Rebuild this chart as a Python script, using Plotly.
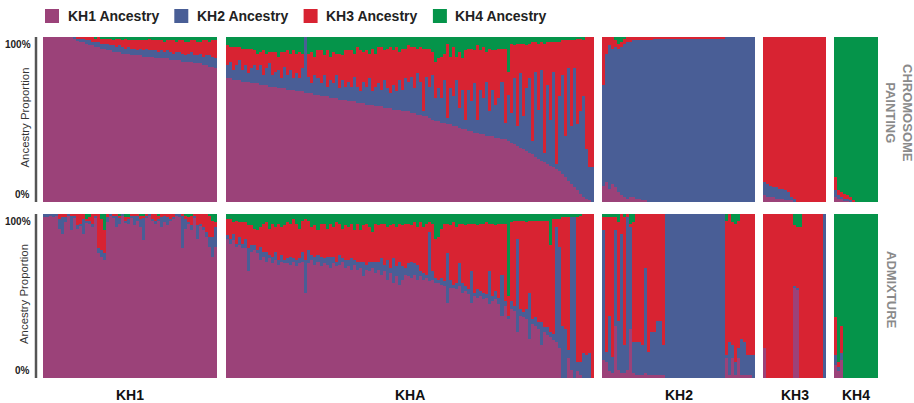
import plotly.graph_objects as go

# ---------------- DATA (percent ancestry per individual) ----------------
# a1 = KH1 ancestry, a2 = KH2 ancestry, a3 = KH3 ancestry, a4 = KH4 ancestry
GROUPS = ["KH1", "KHA", "KH2", "KH3", "KH4"]
ANCESTRY = ["KH1 Ancestry", "KH2 Ancestry", "KH3 Ancestry", "KH4 Ancestry"]
METHODS = ["CHROMOSOME<br>PAINTING", "ADMIXTURE"]

# ---- Chromosome painting ----
cp_kh1_a1 = [100] * 10 + [99, 98, 97, 97, 96, 95, 95, 94, 94, 93, 93, 92, 92, 91, 91, 91, 90, 90, 90, 89,
                          89, 89, 89, 88, 88, 88, 88, 87, 87, 87, 87, 87, 86, 86, 86, 86, 85, 85, 85, 85,
                          84, 84, 84, 83, 83, 82, 82, 81]
cp_kh1_a2 = [0] * 10 + [1, 1, 2, 2, 2, 3, 2, 3, 3, 3, 3, 4, 3, 4, 3, 4, 4, 3, 4, 4,
                        4, 3, 4, 4, 5, 4, 4, 5, 4, 5, 4, 5, 5, 4, 5, 5, 5, 4, 5, 6,
                        5, 5, 6, 5, 6, 7, 6, 6]
cp_kh1_a3 = [0] * 10 + [0, 1, 1, 1, 2, 2, 3, 2, 3, 3, 3, 3, 4, 3, 5, 4, 4, 6, 4, 5,
                        5, 6, 5, 6, 5, 7, 6, 6, 7, 6, 6, 6, 7, 8, 6, 7, 8, 8, 7, 7,
                        9, 8, 7, 10, 9, 8, 10, 11]
cp_kh1_a4 = [0] * 10 + [0, 0, 0, 0, 0, 0, 0, 1, 0, 1, 1, 1, 1, 2, 1, 1, 2, 1, 2, 2,
                        2, 2, 2, 2, 2, 1, 2, 2, 2, 2, 3, 2, 2, 2, 3, 2, 2, 3, 3, 2,
                        2, 3, 3, 2, 2, 3, 2, 2]

cp_kha_a1 = [75, 75, 74, 74, 74, 73, 73, 73, 72, 72, 72, 71, 71, 71, 70, 70, 70, 69, 69, 69,
             68, 68, 68, 67, 67, 67, 66, 66, 66, 65, 65, 64, 64, 64, 63, 63, 63, 62, 62, 62,
             61, 61, 61, 60, 60, 60, 59, 59, 59, 58, 58, 58, 57, 57, 57, 56, 56, 56, 55, 55,
             55, 54, 54, 53, 53, 52, 52, 51, 50, 49, 49, 48, 48, 47, 47, 46, 46, 45, 44, 44,
             43, 43, 42, 42, 41, 41, 40, 40, 40, 39, 39, 38, 38, 37, 36, 35, 34, 33, 32, 31,
             30, 29, 27, 26, 25, 24, 23, 22, 21, 20, 19, 17, 15, 13, 11, 9, 7, 5, 3, 2, 1, 0]
cp_kha_a2 = [8, 10, 6, 9, 12, 7, 10, 5, 9, 11, 8, 12, 6, 10, 14, 7, 9, 11, 6, 13,
             9, 12, 7, 11, 8, 14, 34, 10, 6, 12, 10, 8, 13, 6, 11, 9, 14, 7, 12, 8,
             12, 9, 15, 10, 7, 13, 11, 16, 8, 12, 14, 10, 17, 12, 9, 15, 11, 18, 13, 20,
             18, 22, 15, 25, 20, 3, 24, 19, 27, 14, 20, 15, 26, 4, 22, 18, 28, 12, 24, 6,
             25, 18, 30, 8, 27, 22, 33, 15, 28, 20, 24, 35, 10, 28, 18, 40, 12, 45, 20, 38,
             45, 8, 52, 30, 55, 6, 48, 28, 58, 3, 45, 60, 25, 68, 35, 72, 40, 50, 61, 30, 20, 21]
cp_kha_a3 = [12, 9, 14, 11, 8, 13, 10, 15, 12, 9, 10, 8, 15, 9, 7, 14, 12, 8, 16, 9,
             15, 10, 17, 12, 16, 9, 0, 14, 19, 11, 17, 20, 12, 22, 14, 19, 13, 21, 15, 22,
             19, 22, 14, 24, 25, 18, 22, 15, 26, 20, 22, 26, 18, 24, 28, 21, 27, 17, 25, 18,
             22, 18, 25, 15, 21, 38, 17, 23, 14, 22, 18, 25, 16, 45, 19, 30, 14, 34, 19, 42,
             25, 32, 20, 45, 24, 31, 18, 38, 24, 33, 30, 20, 45, 14, 42, 20, 50, 18, 44, 26,
             21, 60, 18, 40, 17, 66, 26, 47, 18, 74, 33, 21, 58, 17, 52, 17, 52, 44, 34, 68, 79, 79]
cp_kha_a4 = [5, 6, 6, 6, 6, 7, 7, 7, 7, 8, 10, 9, 8, 10, 9, 9, 9, 12, 9, 9,
             8, 10, 8, 10, 9, 10, 0, 10, 9, 12, 8, 8, 11, 8, 12, 9, 10, 10, 11, 8,
             8, 8, 10, 6, 8, 9, 8, 10, 7, 10, 6, 6, 8, 7, 6, 8, 6, 9, 7, 7,
             5, 6, 6, 7, 6, 7, 7, 7, 9, 15, 13, 12, 10, 4, 12, 6, 12, 9, 13, 8,
             7, 7, 8, 5, 8, 6, 9, 7, 8, 8, 7, 7, 7, 21, 4, 5, 4, 4, 4, 5,
             4, 3, 3, 4, 3, 4, 3, 3, 3, 3, 3, 2, 2, 2, 2, 2, 1, 1, 2, 0, 0, 0]

cp_kh2_a1 = [10, 12, 8, 11, 9, 6, 4, 3, 2, 3, 3, 2, 2, 1, 1, 0, 0, 0] + [0] * 33
cp_kh2_a2 = [61, 78, 87, 82, 85, 87, 90, 93, 95, 94, 95, 96, 96, 97, 97, 98, 98, 99] + [99] * 23 + [100] * 10
cp_kh2_a3 = [29, 10, 5, 7, 4, 3, 3, 3, 3, 3, 2, 2, 2, 2, 2, 2, 2, 1] + [1] * 23 + [0] * 10
cp_kh2_a4 = [0, 0, 0, 0, 2, 4, 3, 1, 0, 0, 0, 0, 0, 0, 0, 0, 0, 0] + [0] * 33

cp_kh3_a1 = [4, 3, 3, 3, 2, 2, 2, 1, 1, 1, 0] + [0] * 10
cp_kh3_a2 = [8, 8, 7, 6, 7, 6, 6, 6, 5, 2, 2] + [0] * 10
cp_kh3_a3 = [88, 89, 90, 91, 91, 92, 92, 93, 94, 97, 98] + [100] * 10
cp_kh3_a4 = [0] * 21

cp_kh4_a1 = [3, 2, 2, 1, 1, 0, 0] + [0] * 8
cp_kh4_a2 = [4, 2, 1, 1, 1, 1, 0] + [0] * 8
cp_kh4_a3 = [8, 3, 3, 3, 2, 2, 1] + [0] * 8
cp_kh4_a4 = [85, 93, 94, 95, 96, 97, 99] + [100] * 8

# ---- ADMIXTURE ----
adm_kh1_a1 = [98, 98, 99, 98, 99, 91, 88, 95, 99, 90, 98, 91, 93, 88, 95, 94, 92, 98, 76, 74,
              72, 95, 99, 98, 92, 94, 99, 95, 94, 98, 93, 96, 92, 84, 98, 99, 96, 94, 96, 92,
              95, 93, 96, 97, 99, 98, 79, 91, 94, 90, 98, 85, 93, 90, 86, 80, 74, 80]
adm_kh1_a2 = [2, 2, 1, 2, 1, 6, 10, 3, 1, 9, 1, 2, 1, 9, 1, 2, 2, 1, 3, 4,
              4, 3, 1, 1, 7, 4, 1, 1, 3, 1, 6, 3, 5, 14, 1, 1, 1, 2, 1, 6,
              4, 5, 1, 1, 1, 2, 20, 6, 1, 3, 1, 8, 1, 2, 3, 6, 12, 12]
adm_kh1_a3 = [0, 0, 0, 0, 0, 3, 2, 2, 0, 1, 1, 7, 6, 3, 1, 2, 6, 1, 21, 19,
              14, 2, 0, 1, 1, 1, 0, 2, 1, 1, 1, 1, 2, 1, 1, 0, 3, 4, 2, 2,
              1, 2, 3, 2, 0, 0, 1, 2, 3, 6, 1, 7, 6, 8, 11, 13, 10, 3]
adm_kh1_a4 = [0, 0, 0, 0, 0, 0, 0, 0, 0, 0, 0, 0, 0, 0, 3, 2, 0, 0, 0, 3,
              10, 0, 0, 0, 0, 1, 0, 2, 2, 0, 0, 0, 1, 1, 0, 0, 0, 0, 1, 0,
              0, 0, 0, 0, 0, 0, 0, 1, 2, 1, 0, 0, 0, 0, 0, 1, 4, 5]

adm_kha_a1 = [85, 82, 84, 80, 81, 79, 79, 65, 77, 78, 76, 72, 74, 71, 73, 70, 72, 69, 71, 70,
              70, 69, 71, 68, 70, 71, 52, 70, 72, 69, 71, 68, 70, 69, 67, 70, 68, 69, 71, 67,
              68, 66, 69, 66, 67, 62, 66, 65, 67, 64, 66, 63, 65, 60, 64, 58, 62, 57, 60, 63,
              62, 61, 63, 60, 62, 60, 61, 59, 60, 58, 58, 57, 56, 46, 55, 55, 54, 56, 52, 53,
              51, 46, 50, 49, 50, 48, 49, 45, 47, 48, 45, 38, 44, 36, 42, 41, 28, 38, 37, 36,
              24, 33, 32, 30, 20, 28, 26, 25, 23, 22, 18, 0, 0, 12, 5, 0, 4, 2, 0, 0, 0, 0]
adm_kha_a2 = [2, 3, 4, 2, 5, 3, 6, 14, 4, 3, 2, 8, 3, 6, 2, 4, 5, 3, 4, 2,
              3, 5, 2, 4, 3, 6, 20, 8, 3, 5, 4, 6, 3, 5, 7, 4, 3, 6, 2, 5,
              4, 7, 3, 5, 4, 9, 3, 6, 4, 7, 5, 10, 4, 12, 3, 15, 6, 14, 8, 4,
              8, 10, 7, 9, 3, 4, 2, 30, 5, 3, 2, 4, 3, 30, 5, 2, 4, 14, 6, 3,
              3, 19, 2, 5, 3, 4, 2, 20, 3, 5, 4, 25, 3, 2, 5, 3, 57, 4, 3, 6,
              28, 3, 5, 4, 14, 3, 5, 3, 4, 70, 62, 32, 30, 5, 93, 98, 6, 8, 15, 14, 15, 0]
adm_kha_a3 = [10, 12, 7, 14, 9, 13, 10, 14, 12, 10, 12, 12, 17, 18, 16, 20, 15, 22, 17, 21,
              22, 20, 24, 22, 18, 19, 25, 18, 17, 19, 15, 20, 21, 17, 20, 18, 24, 19, 18, 21,
              20, 21, 18, 23, 19, 22, 25, 21, 18, 23, 22, 21, 25, 20, 26, 21, 24, 23, 25, 27,
              24, 22, 25, 23, 30, 28, 31, 6, 29, 24, 26, 30, 35, 18, 33, 38, 34, 24, 36, 37,
              40, 29, 42, 39, 41, 42, 44, 29, 44, 40, 45, 31, 47, 12, 48, 52, 11, 54, 56, 53,
              44, 60, 59, 62, 62, 65, 65, 53, 70, 5, 17, 66, 68, 81, 0, 0, 88, 89, 85, 86, 85, 100]
adm_kha_a4 = [3, 3, 5, 4, 5, 5, 5, 7, 7, 9, 10, 8, 6, 5, 9, 6, 8, 6, 8, 7,
              5, 6, 3, 6, 9, 4, 3, 4, 8, 7, 10, 6, 6, 9, 6, 8, 5, 6, 9, 7,
              8, 6, 10, 6, 10, 7, 6, 8, 11, 6, 7, 6, 6, 8, 7, 6, 8, 6, 7, 6,
              6, 7, 5, 8, 5, 8, 6, 5, 6, 15, 14, 9, 6, 6, 7, 5, 8, 6, 6, 7,
              6, 6, 6, 7, 6, 6, 5, 6, 6, 7, 6, 6, 6, 50, 5, 4, 4, 4, 4, 5,
              4, 4, 4, 4, 4, 4, 4, 19, 3, 3, 3, 2, 2, 2, 2, 2, 2, 1, 0, 0, 0, 0]

adm_kh2_a1 = [11, 10, 4, 3, 32, 5, 3, 3, 5, 30, 3, 2, 2, 2, 3, 2, 2, 2, 2, 2, 2] + [0] * 20 + \
             [12, 2, 12, 2, 12, 2, 2, 2, 2, 0]
adm_kh2_a2 = [79, 6, 34, 10, 58, 30, 85, 17, 93, 62, 19, 20, 20, 18, 64, 14, 26, 26, 33, 33, 18] + [100] * 20 + \
             [2, 20, 8, 8, 6, 22, 20, 12, 12, 14]
adm_kh2_a3 = [8, 82, 60, 85, 8, 60, 12, 78, 2, 2, 73, 78, 78, 80, 33, 84, 72, 72, 65, 65, 80] + [0] * 20 + \
             [82, 78, 75, 84, 78, 76, 78, 86, 86, 86]
adm_kh2_a4 = [2, 2, 2, 2, 2, 5, 0, 2, 0, 6, 5, 0, 0, 0, 0, 0, 0, 0, 0, 0, 0] + [0] * 20 + \
             [4, 0, 5, 6, 4, 0, 0, 0, 0, 0]

adm_kh3_a1 = [18] + [0] * 9 + [55, 54] + [0] * 9
adm_kh3_a2 = [0] * 10 + [1, 1] + [0] * 8 + [100]
adm_kh3_a3 = [82] + [100] * 9 + [37, 37, 92] + [100] * 7 + [0]
adm_kh3_a4 = [0] * 10 + [7, 8, 8] + [0] * 8

adm_kh4_a1 = [8, 4, 11] + [0] * 12
adm_kh4_a2 = [6, 3, 4] + [0] * 12
adm_kh4_a3 = [23, 3, 17] + [0] * 12
adm_kh4_a4 = [63, 90, 68] + [100] * 12

ROWS = [
    [[cp_kh1_a1, cp_kh1_a2, cp_kh1_a3, cp_kh1_a4],
     [cp_kha_a1, cp_kha_a2, cp_kha_a3, cp_kha_a4],
     [cp_kh2_a1, cp_kh2_a2, cp_kh2_a3, cp_kh2_a4],
     [cp_kh3_a1, cp_kh3_a2, cp_kh3_a3, cp_kh3_a4],
     [cp_kh4_a1, cp_kh4_a2, cp_kh4_a3, cp_kh4_a4]],
    [[adm_kh1_a1, adm_kh1_a2, adm_kh1_a3, adm_kh1_a4],
     [adm_kha_a1, adm_kha_a2, adm_kha_a3, adm_kha_a4],
     [adm_kh2_a1, adm_kh2_a2, adm_kh2_a3, adm_kh2_a4],
     [adm_kh3_a1, adm_kh3_a2, adm_kh3_a3, adm_kh3_a4],
     [adm_kh4_a1, adm_kh4_a2, adm_kh4_a3, adm_kh4_a4]],
]

# ---------------- STYLE / LAYOUT ----------------
W, H = 914, 403
FONT = "Liberation Sans, Arial, Helvetica, sans-serif"
COLORS = ["#9B4279", "#495E96", "#D82332", "#05944A"]
COL_PX = [(43, 217), (226, 594), (602, 755), (763, 826), (834, 878)]
ROW_PX = [(37, 202), (214, 378)]


def px(x):
    return x / W


def py(y):
    return 1 - y / H


fig = go.Figure()
layout = dict(
    width=W, height=H, margin=dict(l=0, r=0, t=0, b=0),
    paper_bgcolor="white", plot_bgcolor="white",
    barmode="stack", bargap=0, showlegend=False,
    font=dict(family=FONT, color="#222"),
)

for r, row in enumerate(ROWS):
    y0, y1 = ROW_PX[r]
    for c, comps in enumerate(row):
        n = r * 5 + c + 1
        s = "" if n == 1 else str(n)
        x0, x1 = COL_PX[c]
        N = len(comps[0])
        for k, vals in enumerate(comps):
            fig.add_trace(go.Bar(
                x=list(range(N)), y=vals, width=1,
                marker=dict(color=COLORS[k], line=dict(width=0)),
                name=ANCESTRY[k], xaxis="x" + s, yaxis="y" + s,
                hovertemplate=GROUPS[c] + " #%{x}: %{y}%<extra>" + ANCESTRY[k] + "</extra>",
            ))
        layout["xaxis" + s] = dict(domain=[px(x0), px(x1)], range=[-0.5, N - 0.5],
                                   visible=False, fixedrange=True)
        layout["yaxis" + s] = dict(domain=[py(y1), py(y0)], range=[0, 100],
                                   visible=False, fixedrange=True)

shapes = []
annotations = []

# left axis lines, tick labels, titles
for r, (y0, y1) in enumerate(ROW_PX):
    shapes.append(dict(type="line", xref="paper", yref="paper",
                       x0=px(36), x1=px(36), y0=py(y0), y1=py(y1),
                       line=dict(color="#555555", width=2.5)))
    annotations.append(dict(text="<b>100%</b>", x=px(33), y=py(y0), xref="paper", yref="paper",
                            xanchor="right", yanchor="top", showarrow=False,
                            font=dict(size=10, family=FONT, color="#222")))
    annotations.append(dict(text="<b>0%</b>", x=px(32), y=py(y1), xref="paper", yref="paper",
                            xanchor="right", yanchor="bottom", showarrow=False,
                            font=dict(size=10, family=FONT, color="#222")))
    annotations.append(dict(text="Ancestry Proportion", x=px(24), y=py((y0 + y1) / 2 - 2),
                            xref="paper", yref="paper", textangle=-90, showarrow=False,
                            xanchor="center", yanchor="middle",
                            font=dict(size=11.4, family=FONT, color="#333")))

# row (method) labels on the right
annotations.append(dict(text="<b>" + METHODS[0] + "</b>", x=px(899), y=py(113), xref="paper", yref="paper",
                        textangle=90, showarrow=False, xanchor="center", yanchor="middle",
                        font=dict(size=13, family=FONT, color="#8a8a8a")))
annotations.append(dict(text="<b>" + METHODS[1] + "</b>", x=px(892), y=py(290), xref="paper", yref="paper",
                        textangle=90, showarrow=False, xanchor="center", yanchor="middle",
                        font=dict(size=13, family=FONT, color="#8a8a8a")))

# group labels at bottom
for c, g in enumerate(GROUPS):
    x0, x1 = COL_PX[c]
    annotations.append(dict(text="<b>" + g + "</b>", x=px((x0 + x1) / 2), y=py(395), xref="paper", yref="paper",
                            showarrow=False, xanchor="center", yanchor="middle",
                            font=dict(size=14, family=FONT, color="#111")))

# legend
for k, name in enumerate(ANCESTRY):
    sx = 45 + 129.3 * k
    shapes.append(dict(type="rect", xref="paper", yref="paper",
                       x0=px(sx), x1=px(sx + 14), y0=py(23), y1=py(9),
                       fillcolor=COLORS[k], line=dict(width=0)))
    annotations.append(dict(text="<b>" + name + "</b>", x=px(sx + 20.5), y=py(16), xref="paper", yref="paper",
                            showarrow=False, xanchor="left", yanchor="middle",
                            font=dict(size=14, family=FONT, color="#222")))

layout["shapes"] = shapes
layout["annotations"] = annotations
fig.update_layout(**layout)
fig.write_html("out.html")
